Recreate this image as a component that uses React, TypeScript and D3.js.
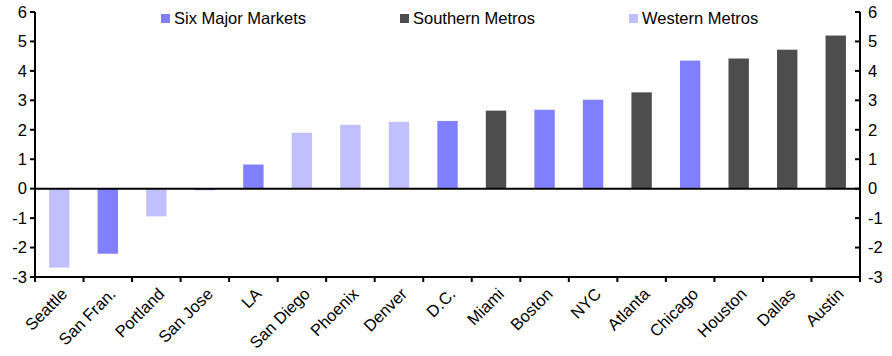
import React from "react";
import * as d3 from "d3";

const categories = ["Seattle","San Fran.","Portland","San Jose","LA","San Diego","Phoenix","Denver","D.C.","Miami","Boston","NYC","Atlanta","Chicago","Houston","Dallas","Austin"];
const values = [-2.68,-2.21,-0.94,-0.05,0.82,1.9,2.17,2.27,2.3,2.65,2.68,3.02,3.27,4.35,4.42,4.72,5.2];
const groups = ["W","S6","W","S6","S6","W","W","W","S6","SM","S6","S6","SM","S6","SM","SM","SM"];
const seriesNames = ["Six Major Markets","Southern Metros","Western Metros"];
const seriesKeys = ["S6","SM","W"];
const yTicks = [-3,-2,-1,0,1,2,3,4,5,6];

const colors: Record<string,string> = { S6: "#8080FF", SM: "#4D4D4D", W: "#C0C0FF" };

export default function App() {
  const W = 892, H = 356;
  const left = 35, right = 860, top = 12, bottom = 277;
  const x = d3.scaleBand().domain(categories).range([left, right]).paddingInner(0.58).paddingOuter(0.29);
  const xb = d3.scaleBand().domain(categories).range([left, right]);
  const y = d3.scaleLinear().domain([-3, 6]).range([bottom, top]);
  const font = "'Liberation Sans', Arial, sans-serif";
  const fs = 16.5;
  const legendX = [161, 400, 629];
  return (
    <svg width={W} height={H} style={{ position: "absolute", left: 0, top: 0 }} fontFamily={font}>
      <rect width={W} height={H} fill="#fff" />
      {categories.map((c, i) => {
        const v = values[i];
        return (
          <rect key={c} x={x(c)} width={x.bandwidth()} y={y(Math.max(0, v))}
            height={Math.abs(y(v) - y(0))} fill={colors[groups[i]]} />
        );
      })}
      <line x1={left} x2={right} y1={y(0)} y2={y(0)} stroke="#000" strokeWidth={2} />
      {/* left axis */}
      <line x1={left} x2={left} y1={top} y2={bottom + 1} stroke="#000" strokeWidth={2} />
      {yTicks.map(t => (
        <g key={"l" + t}>
          <line x1={left - 5} x2={left} y1={y(t)} y2={y(t)} stroke="#000" strokeWidth={2} />
          <text x={left - 8} y={y(t)} dy="0.35em" textAnchor="end" fontSize={fs} fill="#000">{t}</text>
        </g>
      ))}
      {/* right axis */}
      <line x1={right} x2={right} y1={top} y2={bottom + 1} stroke="#000" strokeWidth={2} />
      {yTicks.map(t => (
        <g key={"r" + t}>
          <line x1={right - 5} x2={right} y1={y(t)} y2={y(t)} stroke="#000" strokeWidth={2} />
          <text x={right + 8} y={y(t)} dy="0.35em" textAnchor="start" fontSize={fs} fill="#000">{t}</text>
        </g>
      ))}
      {/* bottom axis */}
      <line x1={left} x2={right} y1={bottom} y2={bottom} stroke="#000" strokeWidth={2} />
      {categories.map((c, i) => (
        <line key={"bt" + i} x1={xb(c)} x2={xb(c)} y1={bottom} y2={bottom + 5} stroke="#000" strokeWidth={2} />
      ))}
      <line x1={right} x2={right} y1={bottom} y2={bottom + 5} stroke="#000" strokeWidth={2} />
      {categories.map(c => {
        const cx = (x(c) as number) + x.bandwidth() / 2 + 5;
        const cy = bottom + 14;
        return (
          <text key={"lab" + c} x={cx} y={cy} textAnchor="end" fontSize={fs} fill="#000"
            transform={`rotate(-45, ${cx}, ${cy})`} dy="0.35em">{c}</text>
        );
      })}
      {seriesNames.map((n, i) => (
        <g key={n}>
          <rect x={legendX[i]} y={14} width={9} height={9} fill={colors[seriesKeys[i]]} />
          <text x={legendX[i] + 13} y={18.5} dy="0.35em" fontSize={fs} fill="#000">{n}</text>
        </g>
      ))}
    </svg>
  );
}
